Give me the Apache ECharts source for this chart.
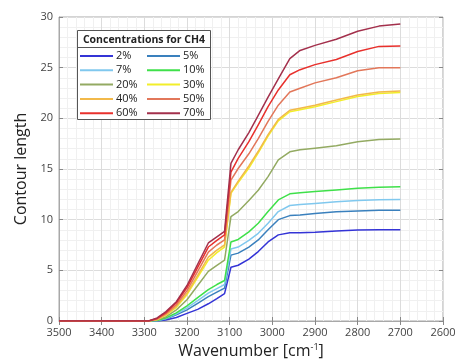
<!DOCTYPE html>
<html>
<head>
<meta charset="utf-8">
<script src="https://cdn.jsdelivr.net/npm/echarts@6/dist/echarts.min.js"></script>
<style>
  html, body { margin: 0; padding: 0; background: #fff; }
  #chart { width: 456px; height: 360px; }
</style>
</head>
<body>
<div id="chart"></div>
<script>
// Wavenumber sample positions (cm^-1), shared by every curve
const wavenumbers = [3500, 3290, 3270, 3250, 3225, 3200, 3175, 3150, 3130, 3112,
  3097, 3080, 3055, 3033, 3010, 2986, 2959, 2935, 2900, 2850, 2800, 2750, 2700];

// Contour length for each CH4 concentration
const c2  = [0, 0, 0, 0.1, 0.35, 0.75, 1.15, 1.7, 2.2, 2.7,
  5.3, 5.5, 6.1, 6.85, 7.8, 8.5, 8.7, 8.72, 8.76, 8.88, 8.98, 9.0, 9.0];
const c5  = [0, 0, 0.02, 0.2, 0.6, 1.1, 1.75, 2.4, 2.85, 3.25,
  6.5, 6.7, 7.3, 8.0, 9.0, 10.0, 10.4, 10.45, 10.6, 10.78, 10.86, 10.92, 10.93];
const c7  = [0, 0, 0.03, 0.25, 0.7, 1.3, 2.0, 2.75, 3.2, 3.6,
  7.1, 7.3, 7.95, 8.65, 9.65, 10.8, 11.4, 11.5, 11.6, 11.78, 11.88, 11.97, 12.0];
const c10 = [0, 0, 0.05, 0.3, 0.8, 1.5, 2.3, 3.1, 3.6, 4.0,
  7.8, 8.05, 8.8, 9.65, 10.8, 11.95, 12.55, 12.65, 12.77, 12.93, 13.1, 13.2, 13.25];
const c20 = [0, 0, 0.1, 0.4, 1.1, 2.1, 3.5, 4.9, 5.5, 6.0,
  10.3, 10.8, 11.9, 12.9, 14.25, 15.9, 16.7, 16.9, 17.05, 17.3, 17.7, 17.9, 17.95];
const c30 = [0, 0, 0.15, 0.55, 1.35, 2.6, 4.3, 6.0, 6.75, 7.3,
  12.6, 13.65, 15.1, 16.6, 18.25, 19.75, 20.65, 20.85, 21.15, 21.65, 22.15, 22.45, 22.55];
const c40 = [0, 0, 0.15, 0.6, 1.45, 2.75, 4.5, 6.3, 7.0, 7.5,
  12.7, 13.8, 15.3, 16.75, 18.4, 19.9, 20.8, 21.0, 21.3, 21.8, 22.3, 22.6, 22.7];
const c50 = [0, 0, 0.2, 0.7, 1.6, 3.0, 4.9, 6.8, 7.5, 8.0,
  13.9, 15.05, 16.5, 18.0, 19.7, 21.3, 22.6, 22.97, 23.5, 24.0, 24.7, 25.0, 25.0];
const c60 = [0, 0, 0.25, 0.8, 1.8, 3.3, 5.3, 7.3, 7.95, 8.5,
  14.7, 16.05, 17.7, 19.35, 21.15, 22.8, 24.3, 24.8, 25.3, 25.8, 26.6, 27.1, 27.15];
const c70 = [0, 0, 0.3, 0.9, 1.9, 3.5, 5.6, 7.7, 8.3, 8.85,
  15.55, 16.9, 18.6, 20.3, 22.1, 23.9, 25.9, 26.7, 27.2, 27.8, 28.6, 29.1, 29.3];

const seriesNames = ['2%', '5%', '7%', '10%', '20%', '30%', '40%', '50%', '60%', '70%'];
const seriesData = [c2, c5, c7, c10, c20, c30, c40, c50, c60, c70];
const seriesColors = ['#3434d6', '#3a80bd', '#80c8ee', '#3fe04a', '#93aa62',
  '#f2ee2a', '#f2b94a', '#e2775a', '#e8302c', '#a3304c'];

const xTicks = [3500, 3400, 3300, 3200, 3100, 3000, 2900, 2800, 2700, 2600];
const yTicks = [0, 5, 10, 15, 20, 25, 30];

const FONT = 'Open Sans';
const chart = echarts.init(document.getElementById('chart'), null, { renderer: 'canvas' });

const gridLine = { show: true, lineStyle: { color: '#dcdcdc', width: 1 } };
const minorLine = { show: true, lineStyle: { color: '#f0f0f0', width: 1 } };

const series = seriesNames.map((name, i) => ({
  name: name,
  type: 'line',
  xAxisIndex: 0,
  yAxisIndex: 0,
  data: wavenumbers.map((w, k) => [w, seriesData[i][k]]),
  showSymbol: false,
  smooth: false,
  lineStyle: { width: 1.5, color: seriesColors[i], join: 'round' },
  itemStyle: { color: seriesColors[i] },
  z: 2 + i
}));

const leftNames = seriesNames.filter((_, i) => i % 2 === 0);
const rightNames = seriesNames.filter((_, i) => i % 2 === 1);
const legendBase = {
  orient: 'vertical',
  top: 49.5,
  padding: 0,
  itemGap: 1.3,
  itemWidth: 33,
  itemHeight: 2,
  icon: 'rect',
  z: 20,
  textStyle: { fontFamily: FONT, fontSize: 11, color: '#222', lineHeight: 13, padding: [0, 0, 0, -2] }
};

chart.setOption({
  animation: false,
  backgroundColor: '#fff',
  grid: { left: 59, right: 13, top: 17, bottom: 39, show: true, borderColor: '#a8a8a8', borderWidth: 1,
    containLabel: false, outerBoundsMode: 'none' },
  xAxis: [{
    type: 'value', inverse: true, min: 2600, max: 3500, interval: 100,
    name: 'Wavenumber [cm{sup|-1}]', nameLocation: 'middle', nameGap: 21,
    nameTextStyle: { fontFamily: FONT, fontSize: 16, color: '#222',
      rich: { sup: { fontFamily: FONT, fontSize: 9, color: '#222', verticalAlign: 'top', padding: [0, 0, 8, 0] } } },
    axisLine: { show: true, lineStyle: { color: '#a8a8a8' } },
    axisTick: { show: true, inside: true, length: 4, lineStyle: { color: '#888' } },
    axisLabel: { fontFamily: FONT, fontSize: 11, color: '#444', margin: 6,
      formatter: v => (xTicks.indexOf(v) >= 0 ? String(v) : '') },
    splitLine: gridLine,
    minorTick: { show: false, splitNumber: 5 },
    minorSplitLine: minorLine
  }, {
    type: 'value', inverse: true, min: 2600, max: 3500, interval: 100, position: 'top',
    axisLine: { show: false },
    axisTick: { show: true, inside: true, length: 4, lineStyle: { color: '#888' } },
    axisLabel: { show: false }, splitLine: { show: false }
  }],
  yAxis: [{
    type: 'value', min: 0, max: 30, interval: 5,
    name: 'Contour length', nameLocation: 'middle', nameGap: 29,
    nameTextStyle: { fontFamily: FONT, fontSize: 16, color: '#222' },
    axisLine: { show: true, lineStyle: { color: '#a8a8a8' } },
    axisTick: { show: true, inside: true, length: 4, lineStyle: { color: '#888' } },
    axisLabel: { fontFamily: FONT, fontSize: 11, color: '#444', margin: 6,
      formatter: v => (yTicks.indexOf(v) >= 0 ? String(v) : '') },
    splitLine: gridLine,
    minorTick: { show: false, splitNumber: 5 },
    minorSplitLine: minorLine
  }, {
    type: 'value', min: 0, max: 30, interval: 5, position: 'right',
    axisLine: { show: false },
    axisTick: { show: true, inside: true, length: 4, lineStyle: { color: '#888' } },
    axisLabel: { show: false }, splitLine: { show: false }
  }],
  legend: [
    Object.assign({}, legendBase, { left: 80, data: leftNames }),
    Object.assign({}, legendBase, { left: 147, data: rightNames })
  ],
  graphic: [
    { type: 'rect', z: 15, shape: { x: 77.5, y: 30.5, width: 133, height: 89 },
      style: { fill: '#fff', stroke: '#555', lineWidth: 1 } },
    { type: 'line', z: 16, shape: { x1: 77.5, y1: 47.5, x2: 210.5, y2: 47.5 },
      style: { stroke: '#555', lineWidth: 1 } },
    { type: 'text', z: 16, x: 144, y: 40.5,
      style: { text: 'Concentrations for CH4', fontFamily: FONT, fontSize: 10.5, fontWeight: 'bold',
        fill: '#222', align: 'center', verticalAlign: 'middle' } }
  ],
  series: series
});
</script>
</body>
</html>
